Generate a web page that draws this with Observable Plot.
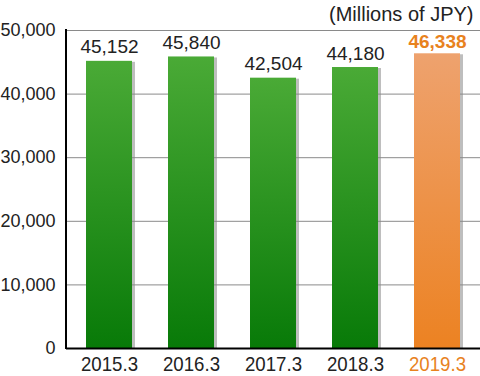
<!DOCTYPE html>
<html><head><meta charset="utf-8">
<script src="https://cdn.jsdelivr.net/npm/d3@7"></script>
<script src="https://cdn.jsdelivr.net/npm/@observablehq/plot@0.6"></script>
<style>body{margin:0;background:#fff}</style>
</head><body><div id="chart"></div>
<script>
const years = ["2015.3","2016.3","2017.3","2018.3","2019.3"];
const values = [45152,45840,42504,44180,46338];
const highlight = [false,false,false,false,true];
const yTicks = [0,10000,20000,30000,40000,50000];
const unitLabel = "(Millions of JPY)";

const data = years.map((y,i)=>({year:y,value:values[i],hi:highlight[i]}));
const fmt = d3.format(",");
const orange = "#e8821e";

function defsMark() {
  const defs = d3.create("svg:defs");
  const g1 = defs.append("linearGradient").attr("id","gGreen").attr("x1",0).attr("y1",0).attr("x2",0).attr("y2",1);
  g1.append("stop").attr("offset","0%").attr("stop-color","#4aaa36");
  g1.append("stop").attr("offset","100%").attr("stop-color","#087a08");
  const g2 = defs.append("linearGradient").attr("id","gOrange").attr("x1",0).attr("y1",0).attr("x2",0).attr("y2",1);
  g2.append("stop").attr("offset","0%").attr("stop-color","#eea26e");
  g2.append("stop").attr("offset","100%").attr("stop-color","#ec8222");
  return defs.node();
}
function yAxisLine(index, scales, channels, dims) {
  return d3.create("svg:line")
    .attr("x1", dims.marginLeft).attr("x2", dims.marginLeft)
    .attr("y1", scales.y(50000) - 1).attr("y2", scales.y(0) + 1)
    .attr("stroke", "#000").attr("stroke-width", 2).node();
}

const plot = Plot.plot({
  width: 480, height: 376,
  marginLeft: 66, marginRight: 0, marginTop: 30, marginBottom: 28,
  style: {fontFamily: "'Liberation Sans', Arial, sans-serif", background: "#fff"},
  x: {domain: years, paddingInner: 0.444, paddingOuter: 0.222, label: null, axis: null},
  y: {domain: [0, 50000], label: null, axis: null},
  marks: [
    defsMark,
    Plot.ruleY(yTicks.slice(1), {stroke: "#8a8a8a", strokeWidth: 1}),
    Plot.barY(data, {x: "year", y: "value", fill: "#888", fillOpacity: 0.55, dx: 3, dy: 1}),
    Plot.barY(data.filter(d => !d.hi), {x: "year", y: "value", fill: "url(#gGreen)"}),
    Plot.barY(data.filter(d => d.hi), {x: "year", y: "value", fill: "url(#gOrange)"}),
    Plot.ruleY([0], {stroke: "#000", strokeWidth: 2}),
    yAxisLine,
    Plot.axisY({ticks: yTicks, tickSize: 0, tickPadding: 11, tickFormat: fmt, fontSize: 18, fill: "#222"}),
    Plot.text(data.filter(d => !d.hi), {x: "year", y: "value", text: d => fmt(d.value), dy: -8, lineAnchor: "bottom", fontSize: 19, fill: "#222"}),
    Plot.text(data.filter(d => d.hi), {x: "year", y: "value", text: d => fmt(d.value), dy: -6, lineAnchor: "bottom", fontSize: 19, fontWeight: "bold", fill: orange}),
    Plot.text(data, {x: "year", frameAnchor: "bottom", text: "year", dy: 8, lineAnchor: "top", fontSize: 21, fill: d => d.hi ? orange : "#222"}),
    Plot.text([unitLabel], {frameAnchor: "top-right", text: d => d, dx: -7, dy: -10, lineAnchor: "bottom", fontSize: 20, fill: "#222"})
  ]
});
// condense the category labels to match the narrow face of the original
d3.select(plot).selectAll("g[font-size='21'] text")
  .attr("textLength", 57).attr("lengthAdjust", "spacingAndGlyphs");
document.getElementById("chart").appendChild(plot);
</script>
</body></html>
